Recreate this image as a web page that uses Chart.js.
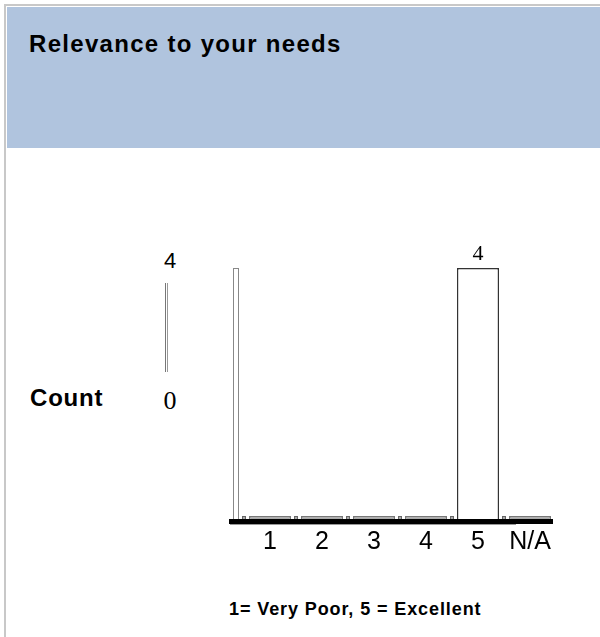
<!DOCTYPE html>
<html>
<head>
<meta charset="utf-8">
<script src="https://cdn.jsdelivr.net/npm/chart.js@4"></script>
<style>
  html, body { margin: 0; padding: 0; background: #fff; }
  body { width: 600px; height: 637px; position: relative; overflow: hidden; font-family: "Liberation Sans", Arial, sans-serif; }
  .frame { position: absolute; left: 4px; top: 4px; right: 0; bottom: 0; border-left: 2px solid #c8c8c8; border-top: 2px solid #c8c8c8; }
  .header { position: absolute; left: 7px; top: 7px; width: 593px; height: 141px; background: #b0c4de; }
  .title { position: absolute; left: 22px; top: 25px; font-size: 24px; line-height: 24px; font-weight: bold; letter-spacing: 1.3px; color: #000; white-space: nowrap; }
  .count { position: absolute; left: 30px; top: 386px; font-size: 24px; line-height: 24px; font-weight: bold; letter-spacing: 0.8px; }
  .ytick { position: absolute; width: 40px; margin-left: -20px; text-align: center; }
  .yline { position: absolute; left: 165px; top: 283px; width: 1px; height: 89px; border-left: 1px solid #777; border-right: 1px solid #999; }
  .note { position: absolute; left: 229px; top: 600px; font-size: 18px; line-height: 18px; font-weight: bold; letter-spacing: 0.9px; white-space: nowrap; }
  #chart { position: absolute; left: 0; top: 0; }
</style>
</head>
<body>
<div class="frame"></div>
<div class="header"><div class="title">Relevance to your needs</div></div>
<div class="count">Count</div>
<div class="yline"></div>
<div id="yticks"></div>
<div class="note">1= Very Poor, 5 = Excellent</div>
<canvas id="chart" width="600" height="637"></canvas>
<script>
const categories = ["1", "2", "3", "4", "5", "N/A"];
const counts = [0, 0, 0, 0, 4, 0];
const yTickLabels = ["4", "0"];

// the two scale labels sit left of the plot, not on the scale itself
const yTickStyle = [
  { left: 170, top: 250, font: "22px 'Liberation Sans', Arial, sans-serif", lh: 22 },
  { left: 170, top: 388, font: "26px 'Liberation Serif', 'Times New Roman', serif", lh: 26 }
];
const yticks = document.getElementById("yticks");
yTickLabels.forEach((t, i) => {
  const d = document.createElement("div");
  d.className = "ytick";
  d.innerText = t;
  d.style.left = yTickStyle[i].left + "px";
  d.style.top = yTickStyle[i].top + "px";
  d.style.font = yTickStyle[i].font;
  d.style.lineHeight = yTickStyle[i].lh + "px";
  yticks.appendChild(d);
});

const decorations = {
  id: "decorations",
  afterDatasetsDraw(chart) {
    const ctx = chart.ctx;
    const area = chart.chartArea;
    ctx.save();

    // thin empty bar along the left edge
    ctx.fillStyle = "#fff";
    ctx.fillRect(area.left - 11, area.top, 6, area.bottom - area.top + 3);
    ctx.strokeStyle = "#888";
    ctx.lineWidth = 1;
    ctx.strokeRect(area.left - 10.5, area.top + 0.5, 5, area.bottom - area.top + 2);

    // little spacer squares before each bar
    const meta = chart.getDatasetMeta(0);
    meta.data.forEach(bar => {
      ctx.fillStyle = "#aaa";
      ctx.fillRect(bar.x - 28, area.bottom - 3, 4, 4);
      ctx.strokeStyle = "#666";
      ctx.strokeRect(bar.x - 27.5, area.bottom - 2.5, 3, 3);
    });

    // heavy baseline
    ctx.fillStyle = "#000";
    ctx.fillRect(area.left - 15, area.bottom, area.right - area.left + 12, 5);
    ctx.fillStyle = "#999";
    ctx.fillRect(area.left - 14, area.bottom + 5, area.right - area.left - 26, 1);

    // value labels above bars
    ctx.fillStyle = "#000";
    ctx.font = "22px 'Liberation Serif', 'Times New Roman', serif";
    ctx.textAlign = "center";
    ctx.textBaseline = "alphabetic";
    meta.data.forEach((bar, i) => {
      if (counts[i] > 0) ctx.fillText(String(counts[i]), bar.x, bar.y - 8);
    });
    ctx.restore();
  }
};

new Chart(document.getElementById("chart"), {
  type: "bar",
  data: {
    labels: categories,
    datasets: [{
      data: counts,
      backgroundColor: counts.map(v => v > 0 ? "#fff" : "#aaa"),
      borderColor: counts.map(v => v > 0 ? "#333" : "#777"),
      borderWidth: 1.5,
      minBarLength: 3,
      categoryPercentage: 1,
      barPercentage: 0.81
    }]
  },
  options: {
    responsive: false,
    animation: false,
    layout: { padding: { left: 244, right: 44, top: 268, bottom: 82 } },
    plugins: { legend: { display: false }, tooltip: { enabled: false } },
    scales: {
      x: {
        grid: { display: false, drawTicks: false },
        border: { display: false },
        ticks: { color: "#000", padding: 8, font: { family: "'Liberation Sans', Arial, sans-serif", size: 25 } },
        afterFit(scale) { scale.height = 36; }
      },
      y: { display: false, min: 0, max: 4 }
    }
  },
  plugins: [decorations]
});
</script>
</body>
</html>
